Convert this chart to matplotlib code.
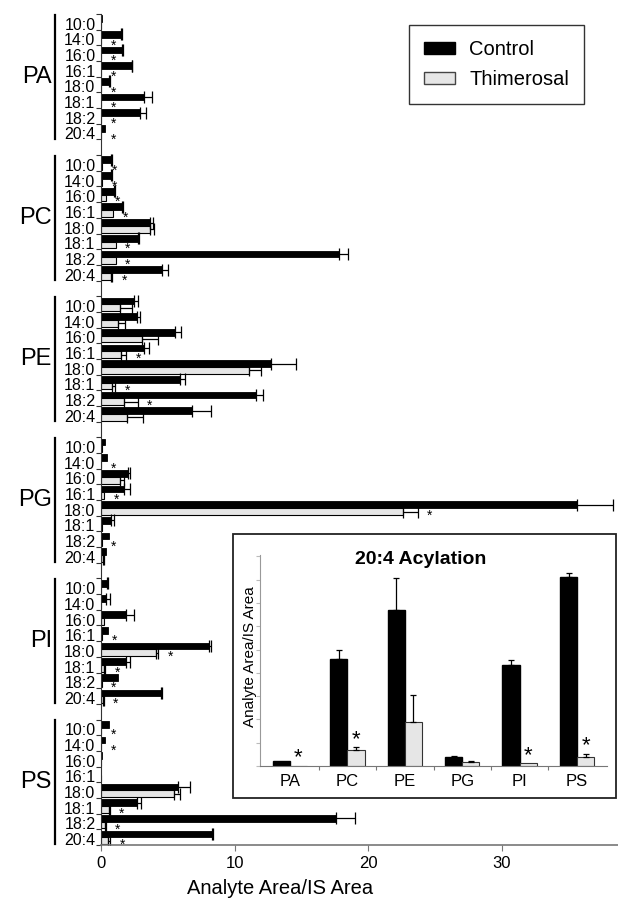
import numpy as np
import matplotlib.pyplot as plt
from matplotlib.patches import Rectangle, Patch
from matplotlib.transforms import blended_transform_factory

plt.rcParams['font.family'] = ['Liberation Sans', 'DejaVu Sans']

groups = ['PA', 'PC', 'PE', 'PG', 'PI', 'PS']
chains = ['10:0', '14:0', '16:0', '16:1', '18:0', '18:1', '18:2', '20:4']

# control means / upper error
ctrl_pa = [0.05, 1.5, 1.6, 2.3, 0.6, 3.25, 2.9, 0.3]
ctrl_pc = [0.75, 0.75, 1.0, 1.6, 3.7, 2.8, 17.8, 4.6]
ctrl_pe = [2.5, 2.7, 5.55, 3.2, 12.7, 5.9, 11.6, 6.8]
ctrl_pg = [0.3, 0.45, 2.0, 1.75, 35.6, 0.75, 0.6, 0.4]
ctrl_pi = [0.45, 0.4, 1.9, 0.5, 8.1, 1.9, 1.25, 4.5]
ctrl_ps = [0.6, 0.3, 0.05, 0.0, 5.8, 2.7, 17.6, 8.3]

ctrl_err_pa = [0, 0.05, 0.05, 0.05, 0.05, 0.6, 0.5, 0]
ctrl_err_pc = [0.05, 0.05, 0.05, 0.05, 0.2, 0.05, 0.7, 0.4]
ctrl_err_pe = [0.3, 0.2, 0.45, 0.4, 1.9, 0.4, 0.5, 1.4]
ctrl_err_pg = [0, 0, 0.15, 0.45, 2.7, 0.2, 0, 0]
ctrl_err_pi = [0.05, 0.3, 0.6, 0, 0.15, 0.25, 0, 0.1]
ctrl_err_ps = [0, 0, 0, 0, 0.85, 0.3, 1.45, 0.1]

# thimerosal means / upper error
thim_pa = [0.0, 0.02, 0.02, 0.02, 0.02, 0.02, 0.02, 0.02]
thim_pc = [0.1, 0.1, 0.35, 0.9, 3.7, 1.1, 1.1, 0.75]
thim_pe = [1.45, 1.3, 3.1, 1.5, 11.05, 0.8, 1.7, 1.95]
thim_pg = [0.05, 0.02, 1.45, 0.25, 22.6, 0.1, 0.05, 0.15]
thim_pi = [0.02, 0.02, 0.2, 0.1, 4.1, 0.25, 0.05, 0.15]
thim_ps = [0.0, 0.0, 0.0, 0.0, 5.5, 0.6, 0.3, 0.55]

thim_err_pa = [0, 0, 0, 0, 0, 0, 0, 0]
thim_err_pc = [0, 0, 0, 0, 0.25, 0, 0, 0.1]
thim_err_pe = [0.85, 0.5, 1.2, 0.4, 0.9, 0.25, 1.05, 1.2]
thim_err_pg = [0, 0, 0.3, 0, 1.1, 0, 0, 0.05]
thim_err_pi = [0, 0, 0, 0, 0.2, 0.05, 0, 0.05]
thim_err_ps = [0, 0, 0, 0, 0.45, 0.05, 0.05, 0.14]

# significance (asterisk)
sig_pa = [0, 1, 1, 1, 1, 1, 1, 1]
sig_pc = [1, 1, 1, 1, 0, 1, 1, 1]
sig_pe = [0, 0, 0, 1, 0, 1, 1, 0]
sig_pg = [0, 1, 0, 1, 1, 0, 1, 0]
sig_pi = [0, 0, 0, 1, 1, 1, 1, 1]
sig_ps = [1, 1, 0, 0, 0, 1, 1, 1]

# inset: 20:4 acylation
inset_ctrl = [0.23, 4.6, 6.7, 0.39, 4.34, 8.1]
inset_ctrl_err = [0.0, 0.37, 1.36, 0.03, 0.2, 0.2]
inset_thim = [0.02, 0.7, 1.9, 0.17, 0.11, 0.39]
inset_thim_err = [0.0, 0.1, 1.17, 0.03, 0.0, 0.14]
inset_sig = [1, 1, 0, 0, 1, 1]

ctrl = [ctrl_pa, ctrl_pc, ctrl_pe, ctrl_pg, ctrl_pi, ctrl_ps]
ctrl_err = [ctrl_err_pa, ctrl_err_pc, ctrl_err_pe, ctrl_err_pg, ctrl_err_pi, ctrl_err_ps]
thim = [thim_pa, thim_pc, thim_pe, thim_pg, thim_pi, thim_ps]
thim_err = [thim_err_pa, thim_err_pc, thim_err_pe, thim_err_pg, thim_err_pi, thim_err_ps]
sig = [sig_pa, sig_pc, sig_pe, sig_pg, sig_pi, sig_ps]

W, H = 618, 901
LIGHT = '#e6e6e6'

fig = plt.figure(figsize=(W / 100, H / 100), dpi=100)
ax = fig.add_axes([101 / W, 1 - 845 / H, (W - 101) / W, (845 - 14) / H])


def err_bars(axis, y, vals, err, horizontal=True, cap=4):
    vals = np.asarray(vals, float)
    err = np.asarray(err, float)
    y = np.asarray(y, float)
    m = err > 0
    if not m.any():
        return
    e = [np.zeros(m.sum()), err[m]]
    if horizontal:
        axis.errorbar(vals[m], y[m], xerr=e, fmt='none', ecolor='black',
                      elinewidth=0.9, capsize=cap, capthick=0.9)
    else:
        axis.errorbar(y[m], vals[m], yerr=e, fmt='none', ecolor='black',
                      elinewidth=0.9, capsize=cap, capthick=0.9)


blend = blended_transform_factory(ax.transAxes, ax.transData)
major, minor = [], []
for g, name in enumerate(groups):
    base = g * 9 + np.arange(8)
    yc = base + 0.3
    yt = base + 0.73
    ax.barh(yc, ctrl[g], height=0.43, color='black', edgecolor='black', linewidth=0.6)
    ax.barh(yt, thim[g], height=0.43, color=LIGHT, edgecolor='black', linewidth=0.8)
    err_bars(ax, yc, ctrl[g], ctrl_err[g])
    err_bars(ax, yt, thim[g], thim_err[g])
    for k in range(8):
        if sig[g][k]:
            xs = thim[g][k] + thim_err[g][k] + 0.9
            ax.text(xs, base[k] + 1.0, '*', fontsize=10, ha='center', va='center')
    major.extend(list(g * 9 + np.arange(9)))
    minor.extend(list(base + 0.62))
    ax.text(-0.095, g * 9 + 4, name, transform=blend, ha='right', va='center', fontsize=17)
    ax.plot([-0.089, -0.089], [g * 9 + 0.05, g * 9 + 7.95], transform=blend,
            color='black', lw=1.6, clip_on=False)

ax.set_ylim(53, 0)
ax.set_xlim(0, 38.7)
ax.set_yticks(major)
ax.set_yticklabels([])
ax.set_yticks(minor, minor=True)
ax.set_yticklabels(chains * 6, minor=True)
ax.tick_params(axis='y', which='major', length=3.5, width=0.8, color='#333')
ax.tick_params(axis='y', which='minor', length=0, pad=4, labelsize=11.5)
ax.set_xticks([0, 10, 20, 30])
ax.tick_params(axis='x', length=4, width=0.8, color='#777', labelsize=12, pad=4)
for s in ['top', 'right']:
    ax.spines[s].set_visible(False)
ax.spines['left'].set_color('#333')
ax.spines['bottom'].set_color('#777')
ax.spines['bottom'].set_linewidth(1.2)

fig.text(280 / W, 1 - 888 / H, 'Analyte Area/IS Area', ha='center', va='center', fontsize=14.5)

# legend
handles = [Patch(facecolor='black', edgecolor='black'),
           Patch(facecolor=LIGHT, edgecolor='#444')]
leg = fig.legend(handles, ['Control', 'Thimerosal'], loc='upper left',
                 bbox_to_anchor=(409 / W, 1 - 25 / H), fontsize=14.5, frameon=True,
                 fancybox=False, edgecolor='black', handlelength=1.55, handleheight=0.5,
                 handletextpad=0.7, borderpad=0.75, labelspacing=0.55, borderaxespad=0)
leg.get_frame().set_linewidth(1.0)

# inset box and axes
box = Rectangle((233 / W, 1 - 798 / H), (616 - 233) / W, (798 - 534) / H,
                transform=fig.transFigure, facecolor='white', edgecolor='#222',
                linewidth=1.3, zorder=1)
fig.add_artist(box)

ins = fig.add_axes([260 / W, 1 - 766 / H, (607 - 260) / W, (766 - 555) / H])
ins.set_zorder(2)
xi = np.arange(6)
ins.bar(xi - 0.15, inset_ctrl, width=0.3, color='black', edgecolor='black')
ins.bar(xi + 0.15, inset_thim, width=0.3, color=LIGHT, edgecolor='#333', linewidth=0.8)
err_bars(ins, xi - 0.15, inset_ctrl, inset_ctrl_err, horizontal=False, cap=2)
err_bars(ins, xi + 0.15, inset_thim, inset_thim_err, horizontal=False, cap=2)
for i in range(6):
    if inset_sig[i]:
        ins.text(xi[i] + 0.15, inset_thim[i] + inset_thim_err[i] + 0.35, '*',
                 fontsize=16, ha='center', va='center')
ins.set_xlim(-0.52, 5.52)
ins.set_ylim(0, 9.06)
ins.set_xticks(np.arange(5) + 0.5)
ins.set_xticklabels([])
ins.set_xticks(xi, minor=True)
ins.set_xticklabels(groups, minor=True)
ins.tick_params(axis='x', which='major', length=3, color='#777')
ins.tick_params(axis='x', which='minor', length=0, labelsize=12, pad=6)
ins.set_yticks(np.arange(0, 10, 1))
ins.tick_params(axis='y', labelleft=False, length=3, color='#bbb')
for s in ['top', 'right']:
    ins.spines[s].set_visible(False)
ins.spines['left'].set_color('#999')
ins.spines['bottom'].set_color('#777')
ins.set_ylabel('Analyte Area/IS Area', fontsize=11)
ins.yaxis.set_label_coords(-0.01, 0.517)
fig.text(421 / W, 1 - 560 / H, '20:4 Acylation', ha='center', va='center',
         fontsize=14, fontweight='bold', zorder=3)

fig.savefig('out.png', dpi=100)
